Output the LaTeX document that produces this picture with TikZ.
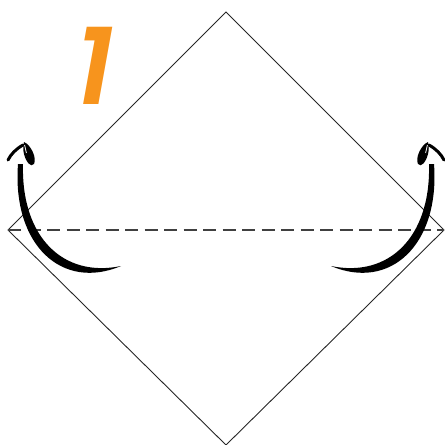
\documentclass[tikz,border=0pt]{standalone}
\usepackage{fontspec}
\newfontfamily\stepfont{Poppins SemiBold}
\definecolor{steporange}{HTML}{F7941D}
\tikzset{
  paper/.style={draw=black!85, line width=0.9pt, line join=miter},
  foldline/.style={draw=black!75, line width=1.2pt, dash pattern=on 13pt off 6.5pt},
  stepnum/.style={text=steporange, font=\stepfont\fontsize{106}{106}\selectfont,
                  inner sep=0pt, xslant=0.18},
  brush/.style={fill=black, draw=none},
  barb/.style={draw=black, line width=3pt, line cap=round},
}

\begin{document}
\begin{tikzpicture}[x=1pt, y=-1pt]
    \useasboundingbox (0,0) rectangle (445,445);
    % corners of the square
    \coordinate (top)    at (226,12);
    \coordinate (right)  at (444,230);
    \coordinate (bottom) at (226,445);
    \coordinate (left)   at (8,230);
    % paper and valley fold
    \draw[paper] (top) -- (right) -- (bottom) -- (left) -- cycle;
    \draw[foldline] (left) -- (right);
    % step number
    \node[stepnum] (num) at (96,66) {1};
    % fold arrows, left one and its mirror image
    \foreach \side/\shift in {1/0, -1/452} {
      \begin{scope}[xshift=\shift pt, xscale=\side]
        % stem
        \fill[brush] (121,266) .. controls (62,291) and (12,245) .. (18,164)
          -- (23,164) .. controls (21,238) and (64,278) .. (121,266) -- cycle;
        % head
        \draw[barb] (23,145) .. controls (16,149) and (11,154) .. (8,160);
        \fill[brush] (24,142) .. controls (31,145) and (37,158) .. (34,164)
          .. controls (31,168) and (26,162) .. (24,154) .. controls (23,150) and (23,146) .. (24,142) -- cycle;
        \draw[white, line width=0.8pt] (24.6,145) -- (26.4,153);
      \end{scope}
    }
  \end{tikzpicture}
\end{document}
